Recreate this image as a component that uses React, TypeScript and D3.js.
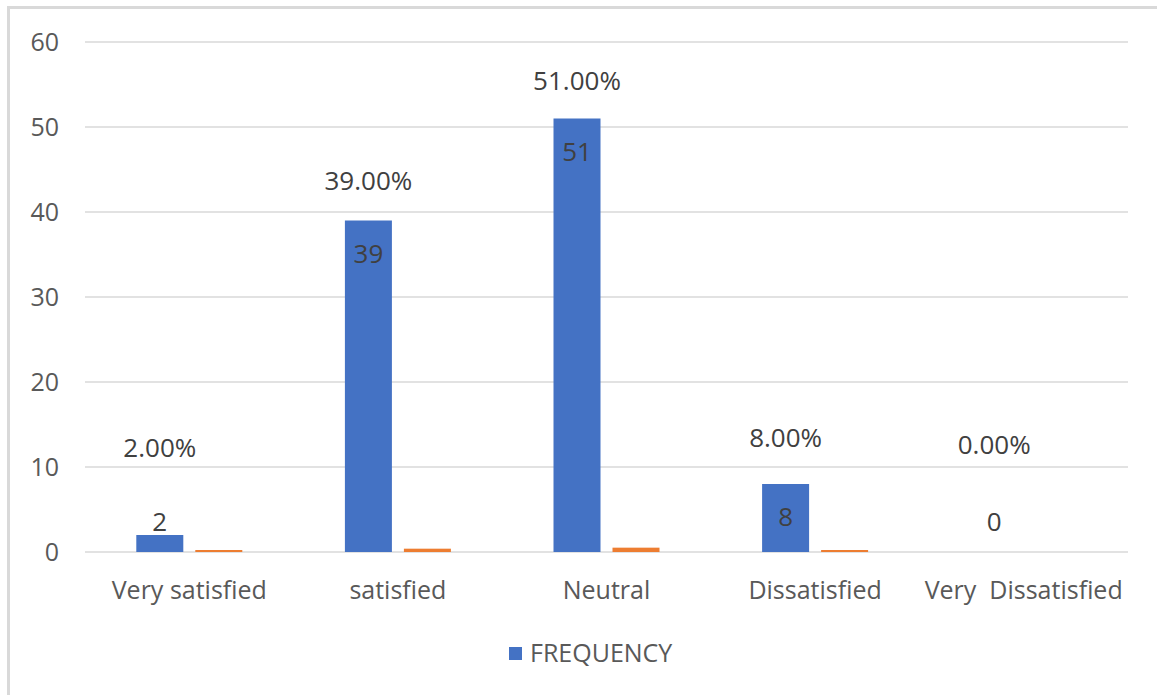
import React from "react";
import * as d3 from "d3";

// Survey responses
const categories = ["Very satisfied", "satisfied", "Neutral", "Dissatisfied", "Very  Dissatisfied"];
const frequency = [2, 39, 51, 8, 0];
const percentage = [0.02, 0.39, 0.51, 0.08, 0.0];
const yTicks = [0, 10, 20, 30, 40, 50, 60];
const legendLabel = "FREQUENCY";

// Layout
const W = 1157;
const H = 695;
const plot = { left: 85, right: 1128, top: 42, bottom: 552 };
const BLUE = "#4472C4";
const ORANGE = "#ED7D31";
const GRID = "#d9d9d9";
const FONT = "'Open Sans', 'Noto Sans', sans-serif";
const AXIS_FS = 25;
const LABEL_FS = 26;
// vertical lift (px) of each percentage label above its bar top
const pctLift = [87, 40, 38, 46, 107];

export default function App() {
  const x0 = d3.scaleBand<string>().domain(categories).range([plot.left, plot.right]).padding(0);
  const groupW = 106;
  const y = d3.scaleLinear().domain([0, 60]).range([plot.bottom, plot.top]);
  const x1 = (c: string) =>
    d3
      .scaleBand<string>()
      .domain(["freq", "pct"])
      .range([x0(c)! + x0.bandwidth() / 2 - groupW / 2, x0(c)! + x0.bandwidth() / 2 + groupW / 2])
      .paddingInner(12 / 59);

  return (
    <svg
      width={W}
      height={H}
      style={{ position: "absolute", left: 0, top: 0, background: "#fff" }}
      fontFamily={FONT}
    >
      <rect x={8.5} y={7.5} width={W + 10} height={H + 10} fill="#fff" stroke={GRID} strokeWidth={3} />

      {yTicks.map((t) => (
        <g key={t}>
          <line x1={plot.left} x2={plot.right} y1={y(t)} y2={y(t)} stroke={GRID} strokeWidth={1.5} />
          <text x={59} y={y(t)} dy="0.35em" textAnchor="end" fontSize={AXIS_FS} fill="#595959">
            {t}
          </text>
        </g>
      ))}

      {categories.map((c, i) => {
        const xs = x1(c);
        const bw = xs.bandwidth();
        const fx = xs("freq")!;
        const px = xs("pct")!;
        const fTop = y(frequency[i]);
        // tiny non-zero bars keep a visible sliver
        const pH = percentage[i] > 0 ? Math.max(plot.bottom - y(percentage[i]), 2) : 0;
        const cx = fx + bw / 2;
        const countY = plot.bottom - fTop > 40 ? fTop + 33 : plot.bottom - 30;
        return (
          <g key={c}>
            {frequency[i] > 0 && (
              <rect x={fx} y={fTop} width={bw} height={plot.bottom - fTop} fill={BLUE} />
            )}
            {pH > 0 && <rect x={px} y={plot.bottom - pH} width={bw} height={pH} fill={ORANGE} />}
            <text x={cx} y={countY} dy="0.35em" textAnchor="middle" fontSize={LABEL_FS} fill="#404040">
              {frequency[i]}
            </text>
            <text x={cx} y={fTop - pctLift[i]} dy="0.35em" textAnchor="middle" fontSize={LABEL_FS} fill="#404040">
              {(percentage[i] * 100).toFixed(2) + "%"}
            </text>
            <text
              x={x0(c)! + x0.bandwidth() / 2}
              y={590}
              dy="0.35em"
              textAnchor="middle"
              fontSize={AXIS_FS}
              fill="#595959"
              style={{ whiteSpace: "pre" }}
            >
              {c}
            </text>
          </g>
        );
      })}

      <g>
        <rect x={509} y={647} width={13} height={13} fill={BLUE} />
        <text x={530} y={653.5} dy="0.35em" fontSize={AXIS_FS} fill="#595959">
          {legendLabel}
        </text>
      </g>
    </svg>
  );
}
